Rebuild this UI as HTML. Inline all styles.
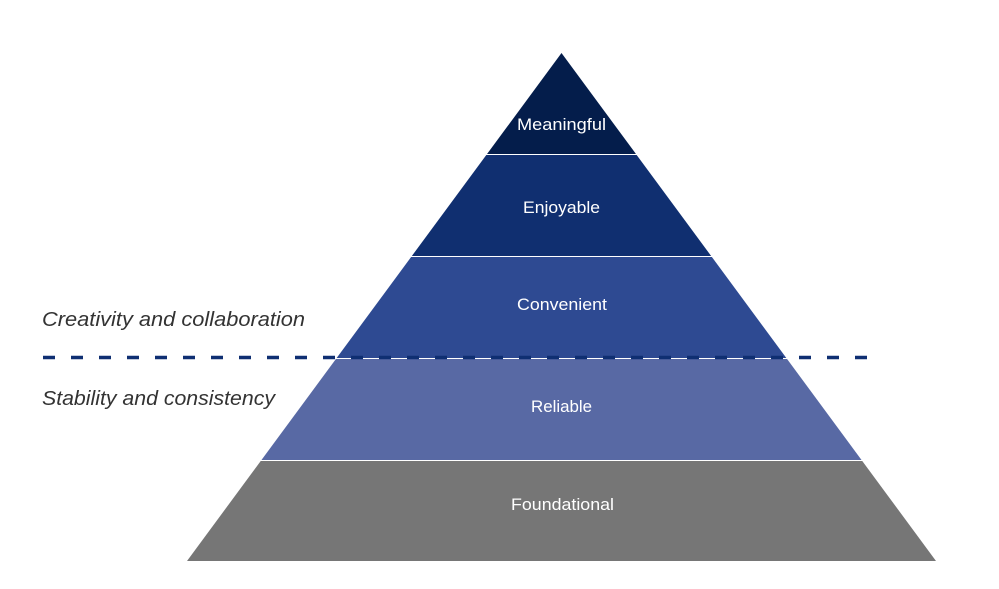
<!DOCTYPE html>
<html><head><style>body{margin:0;background:#fff}</style></head><body>
<svg width="999" height="589" xmlns="http://www.w3.org/2000/svg" style="display:block">
<defs><clipPath id="tri"><polygon points="561.5,53 936,561 187,561"/></clipPath></defs>
<g clip-path="url(#tri)">
<rect x="0" y="40" width="999" height="114" fill="#041D4B"/>
<rect x="0" y="155" width="999" height="101" fill="#102F70"/>
<rect x="0" y="257" width="999" height="101" fill="#2E4A92"/>
<rect x="0" y="359" width="999" height="101" fill="#5869A4"/>
<rect x="0" y="461" width="999" height="100" fill="#767676"/>
</g>
<line x1="43" y1="357.5" x2="878" y2="357.5" stroke="#0F2F72" stroke-width="3.5" stroke-dasharray="12,16"/>
<g font-family="Liberation Sans, sans-serif" font-size="16.5" fill="#fff" lengthAdjust="spacingAndGlyphs">
<text x="517" y="130" textLength="89" lengthAdjust="spacingAndGlyphs">Meaningful</text>
<text x="523" y="213" textLength="77" lengthAdjust="spacingAndGlyphs">Enjoyable</text>
<text x="517" y="310" textLength="90" lengthAdjust="spacingAndGlyphs">Convenient</text>
<text x="531" y="412" textLength="61" lengthAdjust="spacingAndGlyphs">Reliable</text>
<text x="511" y="510" textLength="103" lengthAdjust="spacingAndGlyphs">Foundational</text>
</g>
<g font-family="Liberation Sans, sans-serif" font-size="20" font-style="italic" fill="#333">
<text x="42" y="326" textLength="263" lengthAdjust="spacingAndGlyphs">Creativity and collaboration</text>
<text x="42" y="405" textLength="233" lengthAdjust="spacingAndGlyphs">Stability and consistency</text>
</g>
</svg>
</body></html>
